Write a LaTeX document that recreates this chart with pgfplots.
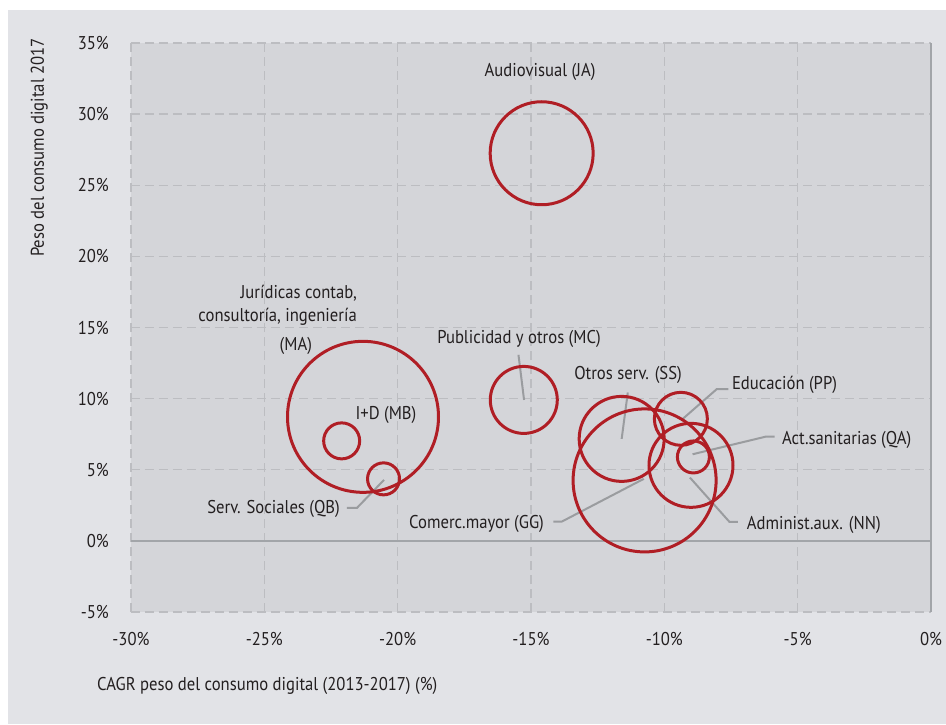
\documentclass[border=0pt]{standalone}
\usepackage{fontspec}
\setmainfont{PT Sans}[FakeStretch=0.9]
\usepackage{pgfplots}
\pgfplotsset{compat=1.18}

\definecolor{panelgray}{HTML}{E2E3E7}
\definecolor{plotgray}{HTML}{D4D5D9}
\definecolor{gridgray}{HTML}{BCBDC1}
\definecolor{axisgray}{HTML}{A2A5A9}
\definecolor{leadergray}{HTML}{9A9C9F}
\definecolor{bubblered}{HTML}{B01E25}
\definecolor{textdark}{HTML}{231F20}

\newcommand{\chartfont}{\fontsize{18.5}{22}\selectfont}

\begin{document}
\begin{tikzpicture}[font=\chartfont, text=textdark]
% page and panel
\useasboundingbox (-131pt,-112pt) rectangle (815pt,612pt);
\fill[white] (-131pt,-112pt) rectangle (815pt,612pt);
\fill[panelgray] (-123pt,-112pt) rectangle (815pt,602pt);

\begin{axis}[
  at={(0pt,0pt)}, anchor=south west,
  scale only axis, width=800pt, height=569pt,
  xmin=-30, xmax=0, ymin=-5, ymax=35,
  xtick={-30,-25,-20,-15,-10,-5,0},
  ytick={-5,0,5,10,15,20,25,30,35},
  xticklabels={-30\%,-25\%,-20\%,-15\%,-10\%,-5\%,0\%},
  yticklabels={-5\%,0\%,5\%,10\%,15\%,20\%,25\%,30\%,35\%},
  axis line style={draw=none},
  major tick length=0pt,
  tick label style={font=\chartfont, text=textdark, inner sep=0pt},
  x tick label style={anchor=base, yshift=-33pt},
  y tick label style={anchor=base east, xshift=-22pt, yshift=-6.5pt},
  grid=major,
  major grid style={gridgray, line width=1.3pt, dash pattern=on 9pt off 5pt},
  axis background/.style={fill=plotgray},
  clip=false,
]

% axis lines crossing at zero
\draw[axisgray, line width=2pt] (axis cs:-30,0) -- (axis cs:0,0);
\draw[axisgray, line width=2.3pt] (axis cs:0,-5) -- (axis cs:0,35);

% bubbles: x = CAGR (%), y = weight 2017 (%), r = bubble radius (pt)
\addplot[
  scatter, only marks, mark=o,
  mark options={line width=3pt, draw=bubblered, fill=none},
  scatter/use mapped color={draw=bubblered, fill=none},
  visualization depends on={\thisrow{r} \as \rad},
  scatter/@pre marker code/.append style={/tikz/mark size=\rad pt},
] table[x=x, y=y] {
x       y      r
-14.60  27.25  51.5
-21.30   8.72  75.5
-22.10   7.03  18.0
-20.53   4.36  16.0
-15.27   9.91  33.5
-11.60   7.17  42.5
-10.74   4.25  71.5
 -9.38   8.58  26.5
 -9.00   5.31  42.0
 -8.91   5.90  16.0
};

% leader lines
\begin{scope}[leadergray, line width=2pt]
\draw (axis cs:-21.90,2.32) -- (axis cs:-21.525,2.32) -- (axis cs:-20.51,4.29);
\draw (axis cs:-15.47,13.08) -- (axis cs:-15.26,9.91);
\draw (axis cs:-11.37,10.43) -- (axis cs:-11.60,7.17);
\draw (axis cs:-7.60,10.66) -- (axis cs:-8.04,10.66) -- (axis cs:-9.35,8.51);
\draw (axis cs:-5.86,7.33) -- (axis cs:-6.19,7.33) -- (axis cs:-8.94,6.09);
\draw (axis cs:-7.24,1.34) -- (axis cs:-7.56,1.34) -- (axis cs:-9.04,4.45);
\draw (axis cs:-14.16,1.36) -- (axis cs:-13.84,1.36) -- (axis cs:-10.77,4.36);
\end{scope}

% bubble labels
\begin{scope}[every node/.style={inner sep=0pt, font=\chartfont, text=textdark}]
\node[anchor=base] at (axis cs:-14.66,32.62) {Audiovisual (JA)};
\node[anchor=base east] at (axis cs:-21.525,17.06) {Jurídicas contab,};
\node[anchor=base east] at (axis cs:-21.525,15.42) {consultoría, ingeniería};
\node[anchor=base] at (axis cs:-23.82,13.36) {(MA)};
\node[anchor=base] at (axis cs:-20.44,8.51) {I+D (MB)};
\node[anchor=base east] at (axis cs:-22.16,1.95) {Serv. Sociales (QB)};
\node[anchor=base] at (axis cs:-15.45,13.85) {Publicidad y otros (MC)};
\node[anchor=base] at (axis cs:-11.36,11.32) {Otros serv. (SS)};
\node[anchor=base west] at (axis cs:-7.47,10.62) {Educación (PP)};
\node[anchor=base west] at (axis cs:-5.59,6.75) {Act.sanitarias (QA)};
\node[anchor=base west] at (axis cs:-6.91,0.77) {Administ.aux. (NN)};
\node[anchor=base east] at (axis cs:-14.51,0.89) {Comerc.mayor (GG)};
\end{scope}
\end{axis}

% axis titles
\node[rotate=90, anchor=base east, inner sep=0pt] at (-87pt,574pt) {Peso del consumo digital 2017};
\node[anchor=base west, inner sep=0pt] at (-34pt,-78pt) {CAGR peso del consumo digital (2013-2017) (\%)};
\end{tikzpicture}
\end{document}
